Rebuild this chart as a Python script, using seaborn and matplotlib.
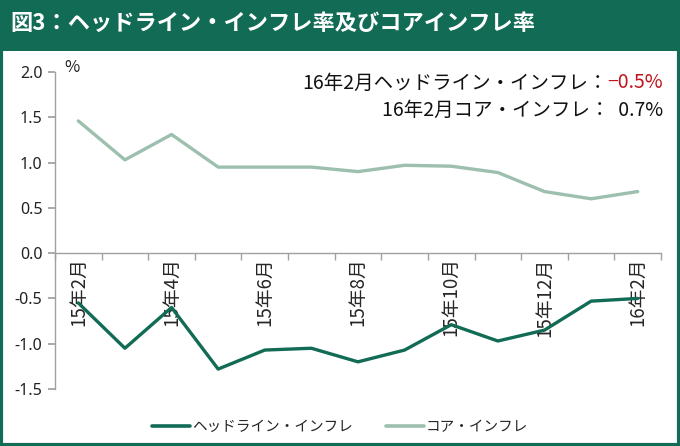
import matplotlib
matplotlib.use("Agg")
import matplotlib.pyplot as plt
from matplotlib.patches import Rectangle
from matplotlib.lines import Line2D
import seaborn as sns
import pandas as pd
import numpy as np

months = ["15年2月", "15年3月", "15年4月", "15年5月", "15年6月", "15年7月", "15年8月",
          "15年9月", "15年10月", "15年11月", "15年12月", "16年1月", "16年2月"]
headline = [-0.55, -1.05, -0.60, -1.28, -1.07, -1.05, -1.20, -1.07, -0.79, -0.97, -0.85, -0.53, -0.50]
core = [1.46, 1.03, 1.31, 0.95, 0.95, 0.95, 0.90, 0.97, 0.96, 0.89, 0.68, 0.60, 0.68]
series_names = ["ヘッドライン・インフレ", "コア・インフレ"]
yticks = [-1.5, -1.0, -0.5, 0.0, 0.5, 1.0, 1.5, 2.0]

GREEN = "#116b55"
LIGHT = "#9cbfae"

sns.set_theme(style="white")
plt.rcParams['font.family'] = ['Noto Sans CJK JP', 'DejaVu Sans']

df = pd.DataFrame({
    "idx": list(range(len(months))) * 2,
    "value": headline + core,
    "series": [series_names[0]] * len(months) + [series_names[1]] * len(months),
})

fig = plt.figure(figsize=(6.8, 4.46), dpi=100)
fig.patch.set_facecolor("white")
ax = fig.add_axes([55/680, 57/446, (661-55)/680, (389-72)/446])

sns.lineplot(data=df, x="idx", y="value", hue="series",
             palette={series_names[0]: GREEN, series_names[1]: LIGHT},
             linewidth=2.4, ax=ax, legend=False)

ax.set_xlim(-0.5, len(months) - 0.5)
ax.set_ylim(-1.5, 2.0)
ax.set_xlabel("")
ax.set_ylabel("")

ax.set_yticks(yticks)
ax.set_yticklabels([f"{v:.1f}" for v in yticks], color="#222222",
                   family=['Noto Sans', 'DejaVu Sans'])
ax.set_xticks(list(range(0, len(months), 2)))
ax.set_xticklabels([months[i] for i in range(0, len(months), 2)], color="#111111")
ax.set_xticks(np.arange(-0.5, len(months), 1.0), minor=True)

ax.tick_params(axis="x", which="major", length=0, pad=3, labelrotation=90, labelsize=13.5)
ax.tick_params(axis="x", which="minor", length=5, color="#a0a0a0", direction="out", bottom=True)
ax.tick_params(axis="y", which="major", length=5, color="#a0a0a0", direction="out", left=True,
               pad=4, labelsize=11.5)

for s in ["top", "right"]:
    ax.spines[s].set_visible(False)
ax.spines["bottom"].set_position(("data", 0))
ax.spines["bottom"].set_color("#a0a0a0")
ax.spines["left"].set_color("#a0a0a0")
ax.spines["bottom"].set_linewidth(1.0)
ax.spines["left"].set_linewidth(1.0)
ax.set_facecolor("none")

# header band and border
fig.patches.append(Rectangle((0, (446-51)/446), 1, 51/446, transform=fig.transFigure,
                             facecolor=GREEN, edgecolor="none", zorder=0))
fig.patches.append(Rectangle((0.002, 0.003), 0.996, 0.994, transform=fig.transFigure,
                             facecolor="none", edgecolor=GREEN, linewidth=3, zorder=5))
fig.text(10/680, 1 - 23/446, "図3：ヘッドライン・インフレ率及びコアインフレ率", color="white",
         fontsize=16, fontweight="bold", ha="left", va="center")

fig.text(64/680, 1 - 68/446, "%", fontsize=12, ha="left", va="center", color="#222222")

# annotations
x_r = 663/680
red = fig.text(x_r, 1 - 83/446, "−0.5%", color="#c0161c", fontsize=14, ha="right", va="center")
renderer = fig.canvas.get_renderer()
w = red.get_window_extent(renderer).width
fig.text(x_r - w/680, 1 - 83/446, "16年2月ヘッドライン・インフレ：", color="#111111",
         fontsize=14, ha="right", va="center")
fig.text(x_r, 1 - 110/446, "16年2月コア・インフレ：  0.7%", color="#111111",
         fontsize=14, ha="right", va="center")

# legend
handles = [Line2D([0], [0], color=GREEN, lw=2.6), Line2D([0], [0], color=LIGHT, lw=2.6)]
fig.legend(handles, series_names, loc="center", bbox_to_anchor=(0.5, 1 - 427/446),
           ncol=2, frameon=False, fontsize=10.5, handlelength=2.6, handletextpad=0.1,
           columnspacing=2.3)

fig.savefig("out.png", dpi=100, facecolor="white")
